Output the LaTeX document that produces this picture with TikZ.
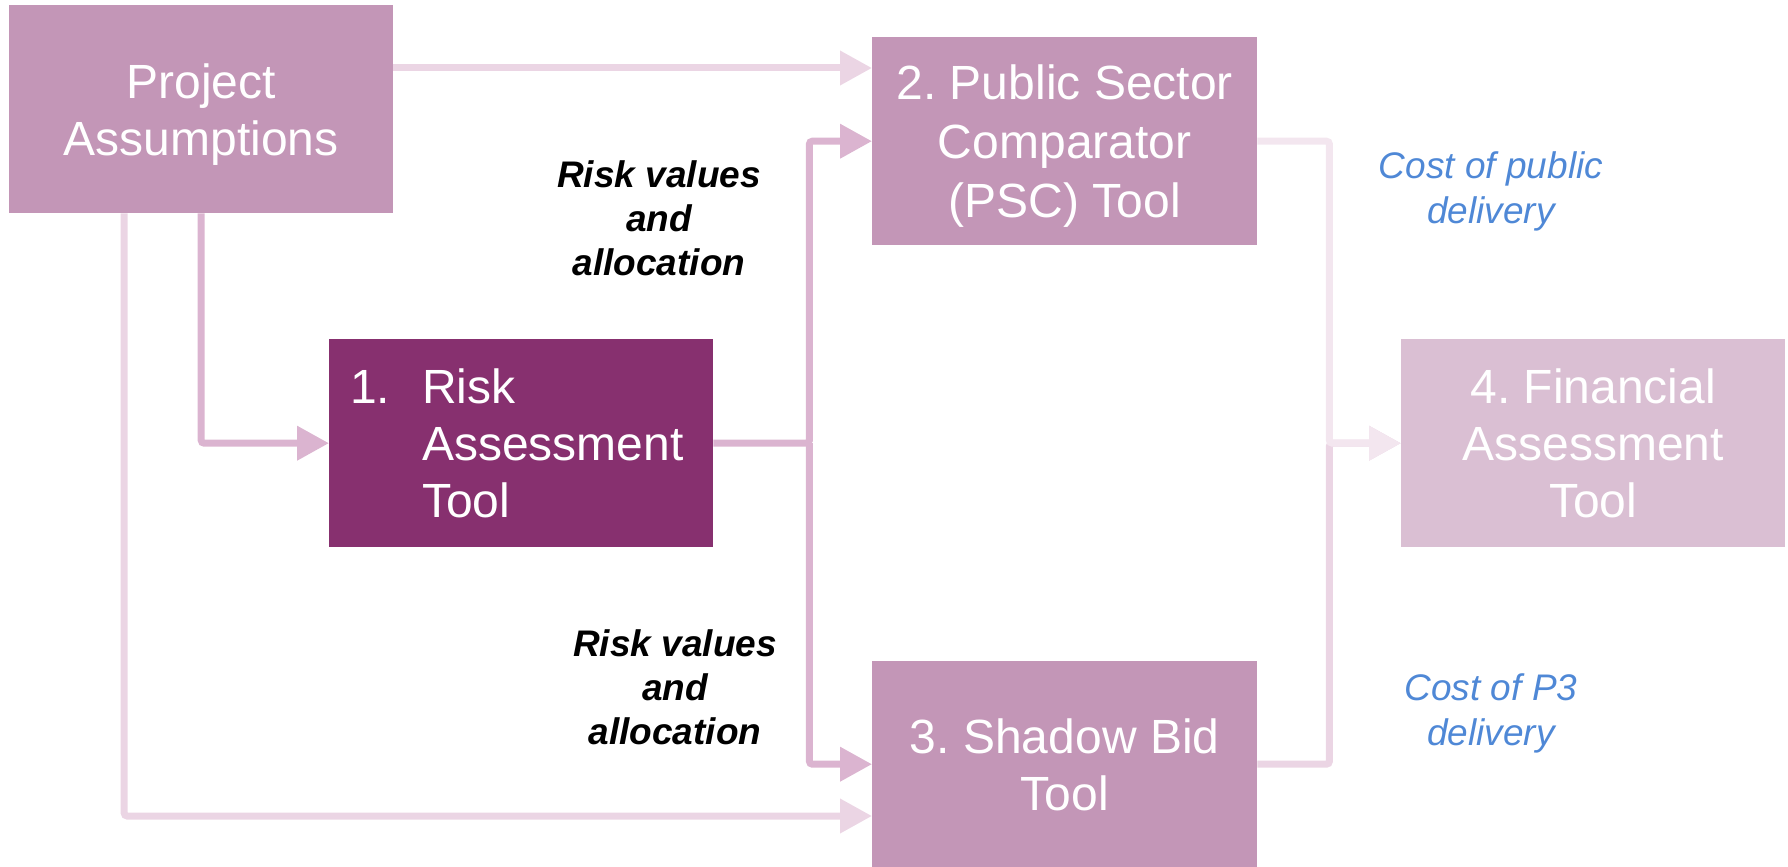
\documentclass[tikz,border=0pt]{standalone}
\usepackage{fontspec}
\setmainfont{Liberation Sans}
\frenchspacing
\usetikzlibrary{arrows.meta,calc}
\definecolor{boxmid}{HTML}{C396B7}
\definecolor{boxdark}{HTML}{87306F}
\definecolor{boxlight}{HTML}{DABFD3}
\definecolor{linemid}{HTML}{DBB4D0}
\definecolor{linelight}{HTML}{EBD5E4}
\definecolor{linefaint}{HTML}{F3E6EF}
\definecolor{costblue}{HTML}{4F88D6}
\newcommand\topstr{\rule{0pt}{47pt}}
\newcommand\botstr{\rule[-12pt]{0pt}{12pt}}
\begin{document}
\begin{tikzpicture}[x=1pt,y=-1pt,
  box/.style={draw=none, fill=boxmid, text=white, inner sep=0pt, align=center,
    minimum width=384pt, minimum height=208pt, anchor=north west,
    font=\fontsize{48}{57}\selectfont},
  conn/.style={line width=7pt, rounded corners=3pt, -{Triangle[length=32pt,width=33pt]}},
  lab/.style={inner sep=0pt, align=center, text=black, anchor=north,
    font=\fontsize{37}{44}\selectfont\bfseries\itshape},
  cost/.style={inner sep=0pt, align=center, text=costblue, anchor=north,
    font=\fontsize{37}{45}\selectfont\itshape}]
\useasboundingbox (0,0) rectangle (1788,867);

\node[box] (PA) at (9,5) {\topstr Project\\Assumptions\botstr};
\node[box, minimum width=385pt, font=\fontsize{48}{59}\selectfont] (PSC) at (872,37)
  {\topstr 2. Public Sector\\Comparator\\(PSC) Tool\botstr};
\node[box, fill=boxdark, align=left, text width=342pt, inner xsep=21pt] (Risk) at (329,339)
  {\topstr\makebox[72pt][l]{1.}Risk\\\hspace*{72pt}Assessment\\\hspace*{72pt}Tool\botstr};
\node[box, fill=boxlight] (FA) at (1401,339) {\topstr 4. Financial\\Assessment\\Tool\botstr};
\node[box, minimum width=385pt, minimum height=206pt] (Shadow) at (872,661) {\topstr 3. Shadow Bid\\Tool\botstr};

\coordinate (paL) at ([xshift=-77pt]PA.south);
\coordinate (shIn) at ([yshift=-155pt]Shadow.north west);
\coordinate (split) at ([xshift=96pt]Risk.east);
\coordinate (mergeA) at ([xshift=72pt]PSC.east);
\coordinate (mergeB) at ([xshift=72pt]Shadow.east);

\draw[conn, linelight] ([yshift=-63pt]PA.north east) -- ([yshift=-31pt]PSC.north west);
\draw[conn, linemid] (PA.south) |- (Risk.west);
\draw[conn, linelight] (paL) |- (shIn);
\draw[conn, linemid] (Risk.east) -- (split) |- (PSC.west);
\draw[conn, linemid] (split) |- (Shadow.west);
\draw[conn, linelight] (Shadow.east) -- (mergeB) |- (FA.west);
\draw[conn, linefaint] (PSC.east) -- (mergeA) |- (FA.west);

\node[lab] (rv1) at (659,160) {Risk values\\and\\allocation};
\node[lab] (rv2) at (675,629) {Risk values\\and\\allocation};
\node[cost] (c1) at (1491,151) {Cost of public\\delivery};
\node[cost] (c2) at (1491,673) {Cost of P3\\delivery};
\end{tikzpicture}
\end{document}
